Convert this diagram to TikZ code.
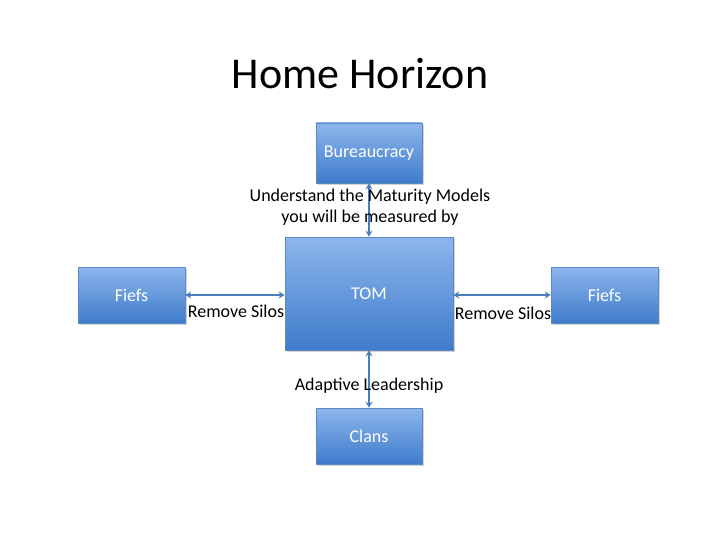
\documentclass[tikz,border=0pt]{standalone}
\usepackage{fontspec}
\setmainfont{Carlito}
\usetikzlibrary{arrows.meta,shadows}
\definecolor{boxtop}{HTML}{8DB6EC}
\definecolor{boxbot}{HTML}{3F7BCB}
\definecolor{boxline}{HTML}{5A89C4}
\definecolor{linkcol}{HTML}{4A7EBB}
\begin{document}
\begin{tikzpicture}[x=1pt,y=-1pt,
  box/.style={draw=boxline,line width=0.6pt,top color=boxtop,bottom color=boxbot,
    text=white,font=\fontsize{18}{21}\selectfont,inner sep=0pt,
    drop shadow={shadow xshift=1.5pt,shadow yshift=-2pt,opacity=0.35}},
  link/.style={draw=linkcol,line width=1.8pt,{Stealth[length=6pt,width=7pt]}-{Stealth[length=6pt,width=7pt]}},
  lbl/.style={font=\fontsize{18}{21}\selectfont,align=center,inner sep=1pt}]

\useasboundingbox (0,0) rectangle (720,540);

\node (title) at (360,74) {\fontsize{44}{52}\selectfont Home Horizon};

\node [box,minimum width=106pt,minimum height=60pt] (bureau) at (369,153) {Bureaucracy};
\node [box,minimum width=168pt,minimum height=113pt] (tom) at (369,293.5) {TOM};
\node [box,minimum width=107pt,minimum height=56pt] (fiefsL) at (131.5,295) {Fiefs};
\node [box,minimum width=107pt,minimum height=56pt] (fiefsR) at (604.5,295) {Fiefs};
\node [box,minimum width=106pt,minimum height=56pt] (clans) at (369,436) {Clans};

\draw [link] (bureau) -- (tom);
\draw [link] (fiefsL.east) -- (fiefsL.east -| tom.west);
\draw [link] (tom.east |- fiefsR.west) -- (fiefsR.west);
\draw [link] (tom) -- (clans);

\node [lbl] (lblmat) at (370,207.5) {Understand the Maturity Models\\you will be measured by};
\node [lbl] (lblsilL) at (236,311) {Remove Silos};
\node [lbl] (lblsilR) at (503,313) {Remove Silos};
\node [lbl] (lbllead) at (369,386) {Adaptive Leadership};

\end{tikzpicture}
\end{document}
